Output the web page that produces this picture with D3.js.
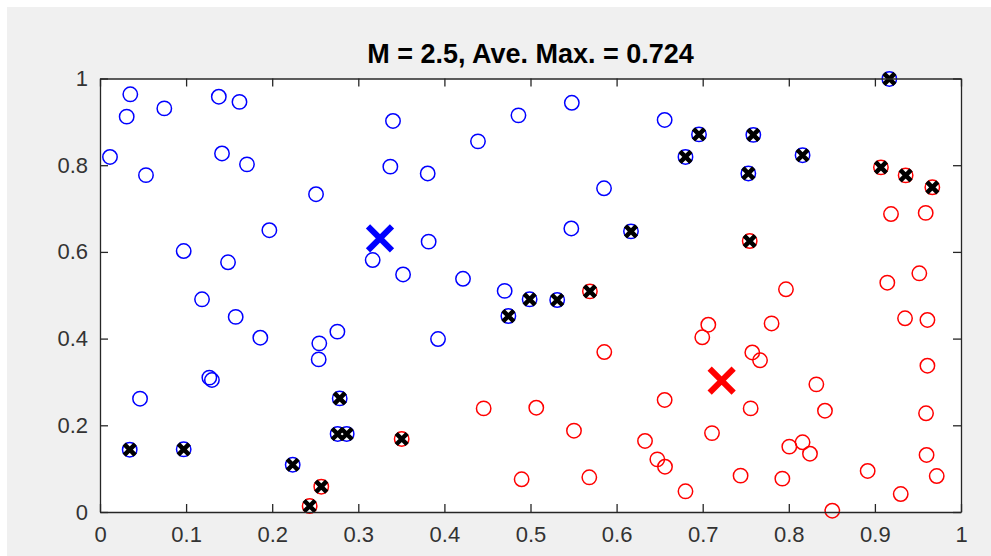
<!DOCTYPE html>
<html><head><meta charset="utf-8">
<script src="https://cdn.jsdelivr.net/npm/d3@7"></script>
<style>html,body{margin:0;padding:0;background:#fff;}svg{display:block;}</style>
</head><body>
<script>
const titleText = "M = 2.5, Ave. Max. = 0.724";
const xTicks = [0,0.1,0.2,0.3,0.4,0.5,0.6,0.7,0.8,0.9,1];
const yTicks = [0,0.2,0.4,0.6,0.8,1];
const xTickLabels = ["0","0.1","0.2","0.3","0.4","0.5","0.6","0.7","0.8","0.9","1"];
const yTickLabels = ["0","0.2","0.4","0.6","0.8","1"];

// cluster 1 (blue) points
const blueX = [0.0352,0.031,0.0747,0.138,0.162,0.0116,0.0534,0.1417,0.1707,0.2509,0.1967,0.0972,0.1487,0.1185,0.1576,0.1862,0.2547,0.254,0.127,0.130,0.0465,0.3403,0.3372,0.3806,0.439,0.486,0.548,0.5854,0.5474,0.3817,0.3167,0.352,0.4216,0.470,0.2757,0.3926,0.6558];
const blueY = [0.9635,0.912,0.931,0.958,0.946,0.819,0.777,0.827,0.802,0.733,0.650,0.602,0.576,0.4906,0.450,0.402,0.389,0.352,0.310,0.3045,0.2614,0.902,0.7966,0.781,0.855,0.915,0.944,0.7467,0.654,0.6236,0.5813,0.548,0.538,0.510,0.416,0.399,0.9043];
// cluster 1 points marked with a black x
const blueMarkedX = [0.0345,0.0972,0.2238,0.2784,0.276,0.2865,0.4743,0.499,0.531,0.6167,0.6957,0.680,0.7588,0.753,0.816,0.9168];
const blueMarkedY = [0.1437,0.1446,0.109,0.262,0.18,0.18,0.452,0.4906,0.489,0.6474,0.871,0.819,0.870,0.781,0.823,0.999];
// cluster 2 (red) points
const redX = [0.4456,0.5067,0.5505,0.5857,0.4897,0.5683,0.9187,0.959,0.7967,0.9144,0.9516,0.935,0.961,0.780,0.7065,0.6995,0.7576,0.7666,0.961,0.832,0.6558,0.7557,0.842,0.9594,0.7108,0.633,0.816,0.8006,0.8246,0.6473,0.6562,0.960,0.8916,0.9718,0.744,0.7925,0.680,0.930,0.8505];
const redY = [0.239,0.2406,0.1876,0.369,0.0754,0.080,0.6874,0.690,0.5137,0.529,0.5506,0.4468,0.443,0.435,0.432,0.403,0.368,0.350,0.3375,0.2945,0.2584,0.239,0.2337,0.2277,0.182,0.1638,0.1608,0.1507,0.1345,0.1215,0.1045,0.1315,0.0946,0.083,0.0838,0.0769,0.0477,0.0415,0.003];
// cluster 2 points marked with a black x
const redMarkedX = [0.257,0.2435,0.3504,0.569,0.7546,0.907,0.9357,0.9667];
const redMarkedY = [0.0584,0.0138,0.1684,0.509,0.625,0.795,0.7766,0.749];
// centroids
const centroidX = [0.3252,0.722];
const centroidY = [0.631,0.303];
const centroidColor = ["#0000ff","#ff0000"];

const W = 991, H = 556;
const L = 100, R = 961, T = 78.5, B = 512;
const font = "'Liberation Sans', Arial, Helvetica, sans-serif";
const axisColor = "#262626";

const svg = d3.select("body").append("svg").attr("width", W).attr("height", H);
svg.append("rect").attr("x",0).attr("y",0).attr("width",W).attr("height",H).attr("fill","#ffffff");
svg.append("rect").attr("x",7).attr("y",7).attr("width",W-7).attr("height",H-7).attr("fill","#f0f0f0");
svg.append("rect").attr("x",L).attr("y",T).attr("width",R-L).attr("height",B-T).attr("fill","#ffffff");

const x = d3.scaleLinear().domain([0,1]).range([L,R]);
const y = d3.scaleLinear().domain([0,1]).range([B,T]);

const plot = svg.append("g");

function circles(xs, ys, color) {
  plot.append("g").selectAll("circle").data(xs.map((v,i)=>[v,ys[i]])).join("circle")
    .attr("cx", d=>x(d[0])).attr("cy", d=>y(d[1])).attr("r", 7.2)
    .attr("fill","none").attr("stroke", color).attr("stroke-width", 1.5);
}
function crosses(xs, ys, color, h, sw) {
  const g = plot.append("g");
  xs.forEach((v,i)=>{
    const cx = x(v), cy = y(ys[i]);
    g.append("path").attr("d", `M${cx-h},${cy-h}L${cx+h},${cy+h}M${cx-h},${cy+h}L${cx+h},${cy-h}`)
      .attr("stroke", color).attr("stroke-width", sw).attr("fill","none");
  });
}
circles(blueX, blueY, "#0000ff");
circles(redX, redY, "#ff0000");
circles(blueMarkedX, blueMarkedY, "#0000ff");
circles(redMarkedX, redMarkedY, "#ff0000");
crosses(blueMarkedX.concat(redMarkedX), blueMarkedY.concat(redMarkedY), "#000000", 5.5, 4.5);
centroidX.forEach((v,i)=>crosses([v],[centroidY[i]], centroidColor[i], 12, 6));

// axes
const tickLen = 8;
const xAxisB = d3.axisBottom(x).tickValues(xTicks).tickFormat((d,i)=>xTickLabels[i]).tickSizeInner(-tickLen).tickSizeOuter(0).tickPadding(14);
const xAxisT = d3.axisTop(x).tickValues(xTicks).tickFormat("").tickSizeInner(-tickLen).tickSizeOuter(0);
const yAxisL = d3.axisLeft(y).tickValues(yTicks).tickFormat((d,i)=>yTickLabels[i]).tickSizeInner(-tickLen).tickSizeOuter(0).tickPadding(12);
const yAxisR = d3.axisRight(y).tickValues(yTicks).tickFormat("").tickSizeInner(-tickLen).tickSizeOuter(0);

function style(g){
  g.select(".domain").attr("stroke", axisColor).attr("stroke-width",1.3);
  g.selectAll(".tick line").attr("stroke", axisColor).attr("stroke-width",1.3);
  g.selectAll(".tick text").attr("fill", "#333333").style("font-family", font).style("font-size","22px");
}
svg.append("g").attr("transform",`translate(0,${B})`).call(xAxisB).call(style);
svg.append("g").attr("transform",`translate(0,${T})`).call(xAxisT).call(style);
svg.append("g").attr("transform",`translate(${L},0)`).call(yAxisL).call(style);
svg.append("g").attr("transform",`translate(${R},0)`).call(yAxisR).call(style);

svg.append("text").attr("x",(L+R)/2).attr("y",63).attr("text-anchor","middle")
  .style("font-family", font).style("font-size","27px").style("font-weight","bold")
  .attr("fill","#000").text(titleText);
</script>
</body></html>
